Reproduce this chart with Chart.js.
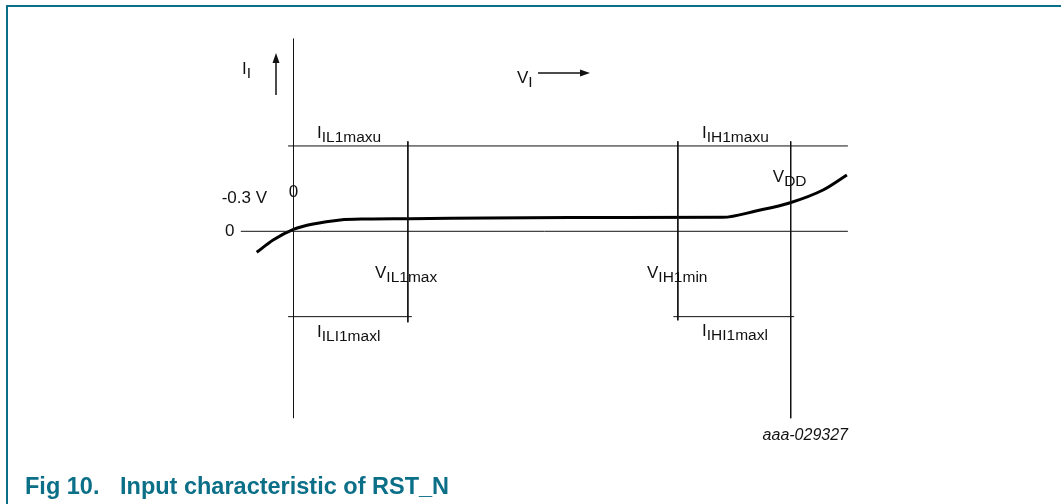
<!DOCTYPE html>
<html>
<head>
<meta charset="utf-8">
<script src="https://cdn.jsdelivr.net/npm/chart.js@4.4.1/dist/chart.umd.min.js"></script>
<style>
html, body { margin: 0; padding: 0; background: #fff; }
#wrap { width: 1061px; height: 504px; }
</style>
</head>
<body>
<div id="wrap"><canvas id="rstChart" width="1061" height="504"></canvas></div>
<script>
// V in units of VDD, I in units of the limit current
var curveV = [-0.074, -0.041, 0, 0.040, 0.094, 0.147, 0.228, 0.315, 0.556, 0.863, 0.932, 0.999, 1.065, 1.113];
var curveI = [-0.246, -0.102, 0.023, 0.086, 0.132, 0.144, 0.148, 0.152, 0.162, 0.164, 0.241, 0.335, 0.484, 0.660];

var levelV = [0.23, 0.773, 1.0];         // VIL1max, VIH1min, VDD
var levelBottomI = [-1.066, -1.043, -2.19];
var limitI = [1, -1];                     // upper / lower limit
var axisSpanV = [-0.106, 1.115];
var axisSpanI = [-2.19, 2.26];

var teal = '#0b6f88';

function seg(x1, y1, x2, y2) {
    return {
        data: [{x: x1, y: y1}, {x: x2, y: y2}],
        showLine: true,
        borderColor: '#111',
        borderWidth: 1,
        pointRadius: 0
    };
}

var datasets = [];
datasets.push(seg(0, axisSpanI[0], 0, axisSpanI[1]));
datasets.push(seg(axisSpanV[0], 0, axisSpanV[1], 0));
datasets.push(seg(-0.011, limitI[0], axisSpanV[1], limitI[0]));
datasets.push(seg(-0.011, limitI[1], levelV[0] + 0.008, limitI[1]));
datasets.push(seg(levelV[1] - 0.009, limitI[1], levelV[2] + 0.007, limitI[1]));
for (var k = 0; k < levelV.length; k++) {
    datasets.push(seg(levelV[k], 1.054, levelV[k], levelBottomI[k]));
}
datasets.push({
    data: curveV.map(function(v, i) { return {x: v, y: curveI[i]}; }),
    showLine: true,
    borderColor: '#000',
    borderWidth: 3,
    pointRadius: 0,
    cubicInterpolationMode: 'monotone'
});

// label: main, subscript, anchor (v, i), align
var labels = [
    ['I', 'I', -0.1036, 1.843, 'left'],
    ['V', 'I', 0.4495, 1.738, 'left'],
    ['I', 'IL1maxu', 0.0473, 1.093, 'left'],
    ['I', 'IH1maxu', 0.8216, 1.093, 'left'],
    ['V', 'DD', 0.964, 0.581, 'left'],
    ['0', '', 0, 0.402, 'center'],
    ['-0.3 V', '', -0.0533, 0.332, 'right'],
    ['0', '', -0.1378, -0.055, 'left'],
    ['V', 'IL1max', 0.1639, -0.547, 'left'],
    ['V', 'IH1min', 0.711, -0.547, 'left'],
    ['I', 'ILI1maxl', 0.0473, -1.2326, 'left'],
    ['I', 'IHI1maxl', 0.8216, -1.2267, 'left']
];

var annotate = {
    id: 'annotate',
    afterDraw: function(chart) {
        var ctx = chart.ctx;
        var xs = chart.scales.x, ys = chart.scales.y;
        ctx.save();

        // frame
        ctx.fillStyle = teal;
        ctx.fillRect(6, 5, 1055, 2);
        ctx.fillRect(6, 5, 2, 499);

        ctx.fillStyle = '#111';
        ctx.textBaseline = 'alphabetic';
        labels.forEach(function(l) {
            var px = xs.getPixelForValue(l[2]);
            var py = ys.getPixelForValue(l[3]);
            ctx.font = '17px "Liberation Sans", Arial, sans-serif';
            var w1 = ctx.measureText(l[0]).width;
            ctx.font = '15.5px "Liberation Sans", Arial, sans-serif';
            var w2 = l[1] ? ctx.measureText(l[1]).width : 0;
            var x0 = px;
            if (l[4] === 'center') x0 = px - (w1 + w2) / 2;
            if (l[4] === 'right') x0 = px - (w1 + w2);
            ctx.textAlign = 'left';
            ctx.font = '17px "Liberation Sans", Arial, sans-serif';
            ctx.fillText(l[0], x0, py);
            if (l[1]) {
                ctx.font = '15.5px "Liberation Sans", Arial, sans-serif';
                ctx.fillText(l[1], x0 + w1, py + 4);
            }
        });

        // axis arrows
        ctx.strokeStyle = '#111';
        ctx.lineWidth = 1.5;
        var ax = xs.getPixelForValue(-0.0352);
        var ay0 = ys.getPixelForValue(1.597), ay1 = ys.getPixelForValue(2.089);
        ctx.beginPath();
        ctx.moveTo(ax, ay0); ctx.lineTo(ax, ay1 + 8); ctx.stroke();
        ctx.beginPath();
        ctx.moveTo(ax, ay1); ctx.lineTo(ax - 3.5, ay1 + 10); ctx.lineTo(ax + 3.5, ay1 + 10);
        ctx.closePath(); ctx.fill();

        var hy = ys.getPixelForValue(1.855);
        var hx0 = xs.getPixelForValue(0.4918), hx1 = xs.getPixelForValue(0.5963);
        ctx.beginPath();
        ctx.moveTo(hx0, hy); ctx.lineTo(hx1 - 8, hy); ctx.stroke();
        ctx.beginPath();
        ctx.moveTo(hx1, hy); ctx.lineTo(hx1 - 10, hy - 3.5); ctx.lineTo(hx1 - 10, hy + 3.5);
        ctx.closePath(); ctx.fill();

        // figure id and caption
        ctx.font = 'italic 16px "Liberation Sans", Arial, sans-serif';
        ctx.textAlign = 'right';
        ctx.fillText('aaa-029327', 848, 440);

        ctx.fillStyle = teal;
        ctx.textAlign = 'left';
        ctx.font = 'bold 23.5px "Liberation Sans", Arial, sans-serif';
        ctx.fillText('Fig 10.', 25, 494);
        ctx.fillText('Input characteristic of RST_N', 120, 494);
        ctx.restore();
    }
};

new Chart(document.getElementById('rstChart').getContext('2d'), {
    type: 'scatter',
    data: { datasets: datasets },
    options: {
        responsive: false,
        animation: false,
        events: [],
        layout: { padding: 0 },
        plugins: { legend: { display: false }, tooltip: { enabled: false } },
        scales: {
            x: { type: 'linear', display: false, min: -0.5903, max: 1.5436 },
            y: { type: 'linear', display: false, min: -3.195, max: 2.710 }
        }
    },
    plugins: [annotate]
});
</script>
</body>
</html>
